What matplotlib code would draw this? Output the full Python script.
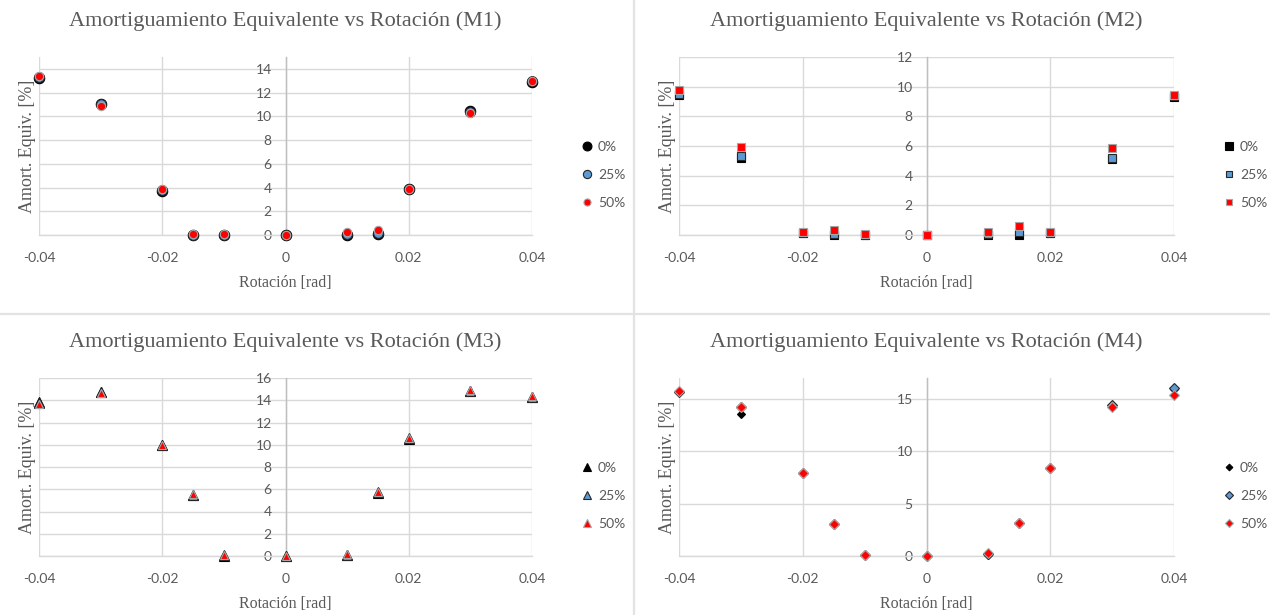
import matplotlib
matplotlib.use("Agg")
import matplotlib.pyplot as plt
from matplotlib.lines import Line2D

# Rotation steps [rad]
rotation = [-0.04, -0.03, -0.02, -0.015, -0.01, 0.0, 0.01, 0.015, 0.02, 0.03, 0.04]
series_labels = ["0%", "25%", "50%"]

# Equivalent damping [%] per model and series
m1_0 = [13.25, 11.05, 3.75, 0.0, 0.0, 0.0, 0.0, 0.05, 3.85, 10.45, 12.9]
m1_25 = [13.3, 11.0, 3.8, 0.02, 0.0, 0.0, 0.1, 0.15, 3.85, 10.4, 12.95]
m1_50 = [13.38, 10.9, 3.85, 0.05, 0.05, 0.0, 0.25, 0.39, 3.85, 10.3, 13.0]

m2_0 = [9.47, 5.17, 0.13, 0.0, 0.0, 0.0, 0.0, 0.02, 0.13, 5.1, 9.27]
m2_25 = [9.5, 5.33, 0.15, 0.07, 0.02, 0.0, 0.05, 0.18, 0.15, 5.22, 9.35]
m2_50 = [9.8, 5.95, 0.2, 0.31, 0.04, 0.0, 0.2, 0.58, 0.2, 5.89, 9.47]

m3_0 = [13.8, 14.74, 10.0, 5.5, 0.0, 0.0, 0.1, 5.7, 10.55, 14.8, 14.26]
m3_25 = [13.75, 14.7, 10.0, 5.52, 0.05, 0.0, 0.12, 5.72, 10.58, 14.85, 14.33]
m3_50 = [13.67, 14.62, 10.02, 5.53, 0.09, 0.0, 0.15, 5.74, 10.6, 14.9, 14.41]

m4_0 = [15.67, 13.54, 7.9, 3.07, 0.1, 0.0, 0.06, 3.17, 8.38, 14.46, 15.95]
m4_25 = [15.7, 14.2, 7.91, 3.08, 0.12, 0.0, 0.15, 3.18, 8.39, 14.4, 16.02]
m4_50 = [15.73, 14.2, 7.91, 3.08, 0.13, 0.0, 0.29, 3.18, 8.39, 14.27, 15.38]

x_ticks = [-0.04, -0.02, 0, 0.02, 0.04]
x_ticklabels = ["-0.04", "-0.02", "0", "0.02", "0.04"]

W, H = 1270, 615
fig = plt.figure(figsize=(W / 100, H / 100), dpi=100)
fig.patch.set_facecolor("white")

GRID = "#d9d9d9"
TXT = "#595959"
SANS = "Lato"
SERIF = "Liberation Serif"

fills = ["#000000", "#5b9bd5", "#ff0000"]
edges = ["#000000", "#262626", "#a6a6a6"]


def px_axes(left, top, right, bottom):
    return fig.add_axes([left / W, (H - bottom) / H, (right - left) / W, (bottom - top) / H])


panels = [
    dict(box=(39, 57, 532, 235), title="Amortiguamiento Equivalente vs Rotación (M1)",
         data=[m1_0, m1_25, m1_50], marker="o", sizes=[7.5, 7.0, 6.0],
         ylim=15, yticks=[0, 2, 4, 6, 8, 10, 12, 14]),
    dict(box=(679, 57, 1174, 235), title="Amortiguamiento Equivalente vs Rotación (M2)",
         data=[m2_0, m2_25, m2_50], marker="s", sizes=[6.0, 5.6, 5.2],
         ylim=12, yticks=[0, 2, 4, 6, 8, 10, 12]),
    dict(box=(39, 378, 532, 556), title="Amortiguamiento Equivalente vs Rotación (M3)",
         data=[m3_0, m3_25, m3_50], marker="^", sizes=[7.0, 7.0, 6.0],
         ylim=16, yticks=[0, 2, 4, 6, 8, 10, 12, 14, 16]),
    dict(box=(679, 378, 1174, 556), title="Amortiguamiento Equivalente vs Rotación (M4)",
         data=[m4_0, m4_25, m4_50], marker="D", sizes=[4.0, 5.2, 4.6],
         ylim=17, yticks=[0, 5, 10, 15]),
]

for p in panels:
    ax = px_axes(*p["box"])
    ax.set_xlim(-0.04, 0.04)
    ax.set_ylim(0, p["ylim"])
    ax.set_xticks(x_ticks)
    ax.set_xticklabels(x_ticklabels)
    ax.set_yticks(p["yticks"])
    ax.set_yticklabels([str(v) for v in p["yticks"]])
    ax.grid(True, color=GRID, linewidth=1.0)
    ax.set_axisbelow(True)
    for s in ["top", "right"]:
        ax.spines[s].set_visible(False)
    ax.spines["left"].set_position(("data", 0))
    ax.spines["left"].set_color("#bfbfbf")
    ax.spines["bottom"].set_color(GRID)
    ax.spines["left"].set_linewidth(1.0)
    ax.spines["bottom"].set_linewidth(1.0)
    ax.tick_params(axis="both", length=0, labelsize=10, labelcolor=TXT)
    ax.tick_params(axis="x", pad=12)
    ax.tick_params(axis="y", pad=10)
    for lab in ax.get_xticklabels() + ax.get_yticklabels():
        lab.set_fontfamily(SANS)

    handles = []
    for vals, fc, ec, ms in zip(p["data"], fills, edges, p["sizes"]):
        ax.plot(rotation, vals, linestyle="none", marker=p["marker"], markersize=ms,
                markerfacecolor=fc, markeredgecolor=ec, markeredgewidth=0.8,
                clip_on=False, zorder=3)
        handles.append(Line2D([], [], linestyle="none", marker=p["marker"], markersize=ms * 0.85,
                              markerfacecolor=fc, markeredgecolor=ec, markeredgewidth=0.8))

    leg = ax.legend(handles, series_labels, loc="center left", bbox_to_anchor=(1.083, 0.337),
                    frameon=False, borderpad=0, handlelength=1.0, handletextpad=0.3,
                    labelspacing=1.15, prop={"family": SANS, "size": 10})
    for t in leg.get_texts():
        t.set_color(TXT)

    ax.set_title(p["title"], fontfamily=SERIF, fontsize=16, color=TXT, pad=22)
    ax.set_xlabel("Rotación [rad]", fontfamily=SERIF, fontsize=11.5, color=TXT, labelpad=8)
    ax.set_ylabel("Amort. Equiv. [%]", fontfamily=SERIF, fontsize=13, color=TXT)
    ax.yaxis.set_label_coords(-0.006, 0.5)

# panel separators
fig.add_artist(Line2D([634 / W, 634 / W], [0, 1], color="#e3e3e3", linewidth=1.6))
fig.add_artist(Line2D([0, 1], [1 - 314 / H, 1 - 314 / H], color="#e3e3e3", linewidth=1.6))

fig.savefig("out.png", dpi=100, facecolor="white")
